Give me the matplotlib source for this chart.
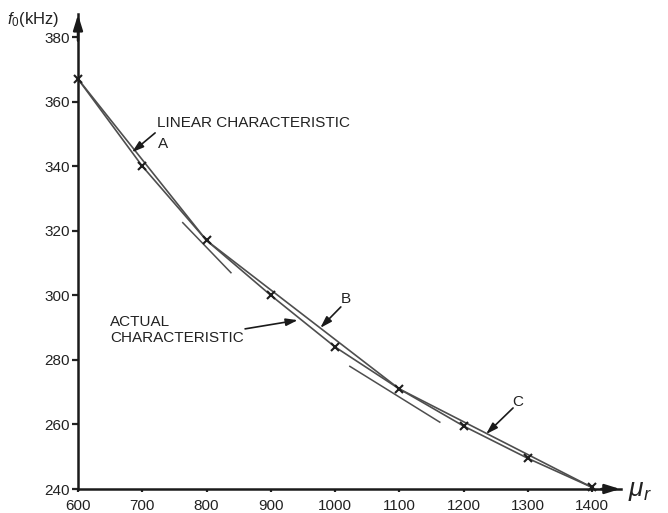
import matplotlib
matplotlib.use("Agg")
import matplotlib.pyplot as plt

# ---- data ----
mu_r = [600, 700, 800, 900, 1000, 1100, 1200, 1300, 1400]
f0_actual = [367, 340, 317, 300, 284, 271, 259.5, 249.5, 240.5]

mu_linear = [600, 800, 1100, 1400]
f0_linear = [367, 317, 271, 240.5]

tangent1_mu = [763, 838]
tangent1_f0 = [322.5, 307]
tangent2_mu = [1023, 1163]
tangent2_f0 = [278, 260.7]

x_ticks = [600, 700, 800, 900, 1000, 1100, 1200, 1300, 1400]
y_ticks = [240, 260, 280, 300, 320, 340, 360, 380]

plt.rcParams['font.family'] = ['Liberation Sans', 'DejaVu Sans']
plt.rcParams['mathtext.fontset'] = 'custom'
plt.rcParams['mathtext.rm'] = 'Liberation Sans'
plt.rcParams['mathtext.it'] = 'Liberation Sans:italic'
plt.rcParams['mathtext.bf'] = 'Liberation Sans:bold'

txt_col = '#222222'

fig = plt.figure(figsize=(6.68, 5.13), dpi=100)
ax = fig.add_axes([0.11677, 0.04678, 0.8129, 0.9251])

ax.set_xlim(600, 1445)
ax.set_ylim(240, 387)

line_col = '#4e4e4e'
ax.plot(mu_linear, f0_linear, color=line_col, lw=1.2, zorder=2)
ax.plot(mu_r, f0_actual, color=line_col, lw=1.2, zorder=2)
ax.plot(tangent1_mu, tangent1_f0, color=line_col, lw=1.1, zorder=2)
ax.plot(tangent2_mu, tangent2_f0, color=line_col, lw=1.1, zorder=2)
ax.plot(mu_r, f0_actual, linestyle='none', marker='x', color='#1e1e1e',
        ms=6, mew=1.5, zorder=3, clip_on=False)

for s in ['top', 'right']:
    ax.spines[s].set_visible(False)
for s in ['left', 'bottom']:
    ax.spines[s].set_linewidth(1.8)
    ax.spines[s].set_color('#1a1a1a')

ax.set_xticks(x_ticks)
ax.set_yticks(y_ticks)
ax.tick_params(axis='y', direction='out', length=4, width=1.6, labelsize=11, pad=2,
               colors=txt_col)
ax.tick_params(axis='x', direction='out', length=2, width=1.6, labelsize=11, pad=5,
               colors=txt_col)

# axis arrowheads
arrow_kw = dict(arrowstyle='-|>,head_length=0.9,head_width=0.28', color='#1a1a1a', lw=1.8)
ax.annotate('', xy=(1448, 240), xytext=(1410, 240), arrowprops=arrow_kw,
            annotation_clip=False)
ax.annotate('', xy=(600, 387.8), xytext=(600, 378), arrowprops=arrow_kw,
            annotation_clip=False)

# axis labels
fig.text(0.010, 0.962, r'$f_0$(kHz)', fontsize=12, ha='left', va='center', color=txt_col)
fig.text(0.940, 0.043, r'$\mu_r$', fontsize=19, ha='left', va='center', color=txt_col)

# annotations
ann_kw = dict(arrowstyle='-|>,head_length=0.7,head_width=0.22', color='#1a1a1a', lw=1.2,
              shrinkA=0, shrinkB=0)
ax.text(723, 353.4, 'LINEAR CHARACTERISTIC', fontsize=11, ha='left', va='center',
        color=txt_col)
ax.text(732, 347.0, 'A', fontsize=11, ha='center', va='center', color=txt_col)
ax.annotate('', xy=(684, 344.3), xytext=(720, 350.3), arrowprops=ann_kw)

ax.text(1017, 298.8, 'B', fontsize=11, ha='center', va='center', color=txt_col)
ax.annotate('', xy=(977, 289.9), xytext=(1009, 296.4), arrowprops=ann_kw)

ax.text(650, 289.2, 'ACTUAL\nCHARACTERISTIC', fontsize=11, ha='left', va='center',
        linespacing=1.15, color=txt_col)
ax.annotate('', xy=(942, 292.3), xytext=(860, 289.6), arrowprops=ann_kw)

ax.text(1285, 266.9, 'C', fontsize=11, ha='center', va='center', color=txt_col)
ax.annotate('', xy=(1235, 257.0), xytext=(1277, 265.1), arrowprops=ann_kw)

fig.savefig('out.png', dpi=100, facecolor='white')
